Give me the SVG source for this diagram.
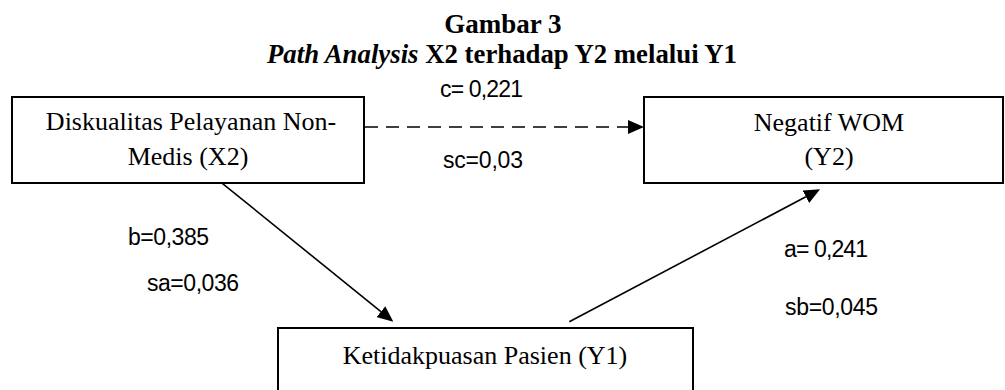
<svg xmlns="http://www.w3.org/2000/svg" width="1005" height="390" viewBox="0 0 1005 390">
<defs>
<style>
.box{fill:#fff;stroke:#000;stroke-width:2}
.node{font-family:"Liberation Serif","Times New Roman",serif;font-size:26px;fill:#000;text-anchor:middle}
.title{font-family:"Liberation Serif","Times New Roman",serif;font-size:27px;font-weight:bold;fill:#000;text-anchor:middle}
.lbl{font-family:"Liberation Sans",Arial,sans-serif;font-size:23px;fill:#000;letter-spacing:-1px}
.conn{stroke:#000;stroke-width:1.6;fill:none}
</style>
<marker id="ah" markerUnits="userSpaceOnUse" markerWidth="16" markerHeight="14" refX="0" refY="7" orient="auto" viewBox="0 0 16 14">
<path d="M0,0 L16,7 L0,14 z" fill="#000"/>
</marker>
</defs>
<rect width="1005" height="390" fill="#fff"/>
<g id="title">
<text class="title" x="503" y="33">Gambar 3</text>
<text class="title" x="502" y="63" textLength="470" lengthAdjust="spacingAndGlyphs"><tspan font-style="italic">Path Analysis</tspan> X2 terhadap Y2 melalui Y1</text>
</g>
<g id="connectors">
<line class="conn" x1="365" y1="127" x2="628" y2="127" stroke-dasharray="13,8" stroke-width="2" marker-end="url(#ah)"/>
<line class="conn" x1="217.3" y1="179.3" x2="380.9" y2="311.6" marker-end="url(#ah)"/>
<line class="conn" x1="569.3" y1="321.7" x2="805.9" y2="196.8" marker-end="url(#ah)"/>
</g>
<g id="labels">
<text class="lbl" x="440" y="97" textLength="82">c= 0,221</text>
<text class="lbl" x="443" y="168" textLength="79">sc=0,03</text>
<text class="lbl" x="128" y="245" textLength="80">b=0,385</text>
<text class="lbl" x="147" y="291" textLength="91">sa=0,036</text>
<text class="lbl" x="784" y="257" textLength="83">a= 0,241</text>
<text class="lbl" x="785" y="315" textLength="92">sb=0,045</text>
</g>
<g id="node-x2">
<rect class="box" x="12" y="97" width="352" height="86"/>
<text class="node" x="191" y="130">Diskualitas Pelayanan Non-</text>
<text class="node" x="188" y="165">Medis (X2)</text>
</g>
<g id="node-y2">
<rect class="box" x="644" y="97" width="359" height="86"/>
<text class="node" x="829" y="131">Negatif WOM</text>
<text class="node" x="829" y="165">(Y2)</text>
</g>
<g id="node-y1">
<rect class="box" x="278" y="328" width="415" height="80"/>
<text class="node" x="485" y="364">Ketidakpuasan Pasien (Y1)</text>
</g>
</svg>
